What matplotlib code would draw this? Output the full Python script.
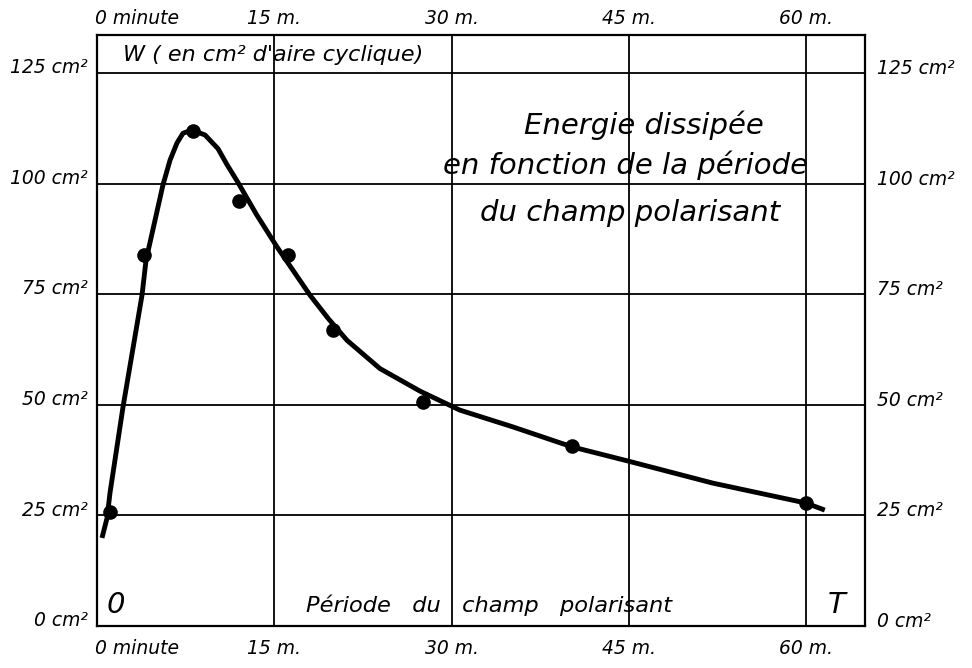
import numpy as np
import matplotlib
matplotlib.use("Agg")
import matplotlib.pyplot as plt

# mesures (minutes, cm2 d'aire cyclique)
periode = [1.1, 4.0, 8.1, 12.0, 16.2, 20.0, 27.6, 40.2, 60.0]
energie = [25.8, 83.9, 111.9, 96.1, 83.9, 66.9, 50.6, 40.7, 27.8]

# courbe tracee a la main (relevee point par point)
courbe_x = [0.42, 0.85, 1.10, 2.20, 3.81, 4.15, 5.58, 6.18, 6.77, 7.28, 8.04,
            9.14, 10.24, 11.0, 11.9, 13.5, 15.23, 18.02, 19.6, 21.15, 23.94,
            27.33, 30.71, 35.2, 40.19, 44.92, 52.11, 59.98, 61.59]
courbe_y = [19.9, 24.4, 30.1, 49.5, 74.8, 82.7, 99.7, 105.3, 109.2, 111.4,
            112.1, 111.0, 107.9, 104.3, 100.4, 93.0, 85.7, 74.8, 69.4, 64.6,
            58.2, 53.1, 48.8, 45.0, 40.5, 37.3, 32.3, 27.8, 26.2]

x_ticks = [0, 15, 30, 45, 60]
x_labels = ["0 minute", "15 m.", "30 m.", "45 m.", "60 m."]
y_ticks = [0, 25, 50, 75, 100, 125]
y_labels = ["0 cm²", "25 cm²", "50 cm²", "75 cm²", "100 cm²", "125 cm²"]

plt.rcParams["font.family"] = ["DejaVu Sans"]
fig = plt.figure(figsize=(9.72, 6.68), dpi=100)
ax = fig.add_axes([0.0998, 0.0629, 0.7902, 0.8847])
ax.set_xlim(0, 65)
ax.set_ylim(0, 133.6)

for v in x_ticks[1:]:
    ax.axvline(v, color="black", lw=1.3, zorder=1)
for v in y_ticks[1:]:
    ax.axhline(v, color="black", lw=1.3, zorder=1)
for s in ax.spines.values():
    s.set_linewidth(1.6)

ax.set_xticks([])
ax.set_yticks([])

ax.plot(courbe_x, courbe_y, color="black", lw=3.5, solid_joinstyle="round",
        solid_capstyle="butt", zorder=3)
ax.plot(periode, energie, "o", color="black", ms=9.5, zorder=4)

fs = 13.5
st = dict(style="italic", fontsize=fs, color="black")
# graduations en x (haut et bas)
for v, lab in zip(x_ticks, x_labels):
    dx = 3.4 if v == 0 else 0
    ax.text(v + dx, 1.012, lab, transform=ax.get_xaxis_transform(),
            ha="center", va="bottom", **st)
    ax.text(v + dx, -0.022, lab, transform=ax.get_xaxis_transform(),
            ha="center", va="top", **st)
# graduations en y (gauche et droite)
for v, lab in zip(y_ticks, y_labels):
    ax.text(-0.012, v + 1.2, lab, transform=ax.get_yaxis_transform(),
            ha="right", va="center", **st)
    ax.text(1.016, v + 1.0, lab, transform=ax.get_yaxis_transform(),
            ha="left", va="center", **st)

ax.text(2.2, 129.0, "W ( en cm² d'aire cyclique)", ha="left", va="center",
        style="italic", fontsize=16)
ax.text(46.3, 113.2, "Energie dissipée", ha="center", va="center",
        style="italic", fontsize=21)
ax.text(44.75, 104.2, "en fonction de la période", ha="center", va="center",
        style="italic", fontsize=21)
ax.text(45.1, 93.4, "du champ polarisant", ha="center", va="center",
        style="italic", fontsize=21)
ax.text(1.6, 4.8, "0", ha="center", va="center", style="italic", fontsize=21)
ax.text(33.2, 4.8, "Période   du   champ   polarisant", ha="center",
        va="center", style="italic", fontsize=16.2)
ax.text(62.6, 4.8, "T", ha="center", va="center", style="italic", fontsize=21)

fig.savefig("out.png", dpi=100, facecolor="white")
